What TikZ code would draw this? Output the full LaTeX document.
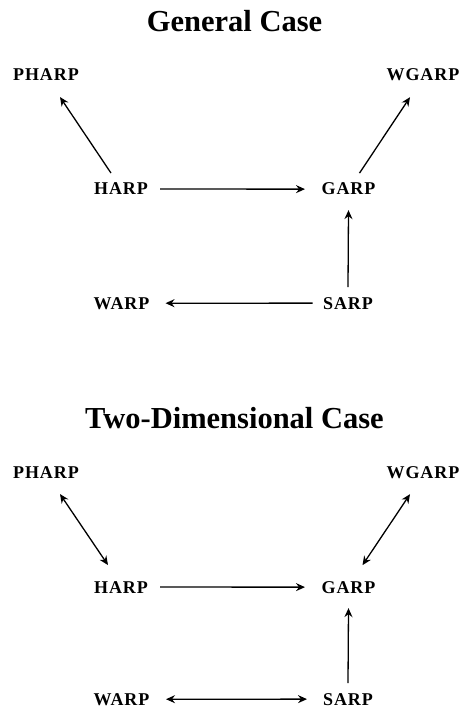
\documentclass[tikz,border=0pt]{standalone}
\usepackage{fontspec}
\setmainfont{Liberation Serif}
\usetikzlibrary{arrows.meta}
\begin{document}
\begin{tikzpicture}[x=1pt,y=-1pt,
  lbl/.style={font=\fontsize{18}{20}\selectfont\bfseries\addfontfeatures{LetterSpace=5}, inner sep=0pt, anchor=base},
  ttl/.style={font=\fontsize{30.5}{32}\selectfont\bfseries, inner sep=0pt, anchor=base},
  tip/.tip={Stealth[length=9pt,width=8pt,inset=3pt]},
  arr/.style={line width=1.3pt, -tip},
  darr/.style={line width=1.3pt, tip-tip}]
\useasboundingbox (0,0) rectangle (461,711);
% General case
\node[ttl] (t1) at (234.5,32) {General Case};
\node[lbl] (ph1) at (46,81) {PHARP};
\node[lbl] (wg1) at (423,81) {WGARP};
\node[lbl] (h1) at (121,195) {HARP};
\node[lbl] (g1) at (348.5,195) {GARP};
\node[lbl] (w1) at (121.5,309) {WARP};
\node[lbl] (s1) at (348,309) {SARP};
\draw[arr] ([shift={(-10,-16)}]h1.center) -- ([shift={(14,22)}]ph1.center);
\draw[arr] ([shift={(11,-16)}]g1.center) -- ([shift={(-13,22)}]wg1.center);
\draw[arr] ([xshift=39pt]h1.center) -- ([xshift=-43.5pt]g1.center);
\draw[arr] ([yshift=16pt]s1.center) -- ([yshift=-21pt]g1.center);
\draw[arr] ([xshift=-35.5pt]s1.center) -- ([xshift=44pt]w1.center);
% Two-dimensional case
\node[ttl] (t2) at (234.5,428) {Two-Dimensional Case};
\node[lbl] (ph2) at (46,478) {PHARP};
\node[lbl] (wg2) at (423,478) {WGARP};
\node[lbl] (h2) at (121,593) {HARP};
\node[lbl] (g2) at (348.5,593) {GARP};
\node[lbl] (w2) at (121.5,705) {WARP};
\node[lbl] (s2) at (348,705) {SARP};
\draw[darr] ([shift={(-13,-22)}]h2.center) -- ([shift={(14,22)}]ph2.center);
\draw[darr] ([shift={(14,-22)}]g2.center) -- ([shift={(-13,22)}]wg2.center);
\draw[arr] ([xshift=39pt]h2.center) -- ([xshift=-43.5pt]g2.center);
\draw[arr] ([yshift=16pt]s2.center) -- ([yshift=-21pt]g2.center);
\draw[darr] ([xshift=-41pt]s2.center) -- ([xshift=44.5pt]w2.center);
\end{tikzpicture}
\end{document}
